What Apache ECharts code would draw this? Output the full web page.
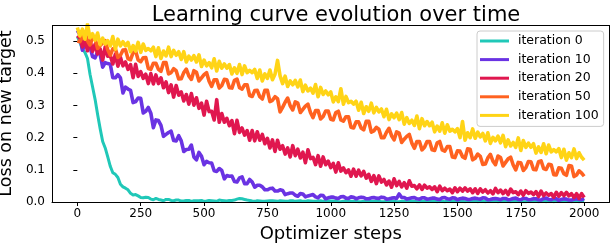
<!DOCTYPE html>
<html>
<head>
<meta charset="utf-8">
<script src="https://cdn.jsdelivr.net/npm/echarts@6/dist/echarts.min.js"></script>
<style>
html,body{margin:0;padding:0;background:#fff;}
#c{width:612px;height:246px;}
</style>
</head>
<body>
<div id="c"></div>
<script>
// sample positions (optimizer steps)
const stepsA = [0,20,40,60,80,100,120,140,160,180,200,220,240,260,280,300,320,340,360,380,400,420,440,460,480,500,520,540,560,580,600,620,640,660,680,700,720,740,760,780,800,820,840,860,880,900,920,940,960,980,1000,1020,1040,1060,1080,1100,1120,1140,1160,1180,1200,1220,1240,1260,1280,1300,1320,1340,1360,1380,1400,1420,1440,1460,1480,1500,1520,1540,1560,1580,1600,1620,1640,1660,1680,1700,1720,1740,1760,1780,1800,1820,1840,1860,1880,1900,1920,1940,1960,1980,2000];
const stepsB = [10,30,50,70,90,110,130,150,170,190,210,230,250,270,290,310,330,350,370,390,410,430,450,470,490,510,530,550,570,590,610,630,650,670,690,710,730,750,770,790,810,830,850,870,890,910,930,950,970,990,1010,1030,1050,1070,1090,1110,1130,1150,1170,1190,1210,1230,1250,1270,1290,1310,1330,1350,1370,1390,1410,1430,1450,1470,1490,1510,1530,1550,1570,1590,1610,1630,1650,1670,1690,1710,1730,1750,1770,1790,1810,1830,1850,1870,1890,1910,1930,1950,1970,1990];

const seriesNames = ['iteration 0','iteration 10','iteration 20','iteration 50','iteration 100'];
const seriesColors = ['#20c8b8','#6a33e3','#e0174f','#ff6220','#ffd416'];

// iteration 0
const iter0A = [0.514,0.474,0.446,0.358,0.272,0.188,0.140,0.091,0.076,0.047,0.038,
0.022,0.019,0.013,0.014,0.007,0.008,0.004,0.008,0.004,0.006,
0.003,0.005,0.004,0.004,0.002,0.005,0.003,0.006,0.004,0.005,
0.006,0.011,0.008,0.005,0.002,0.003,0.002,0.004,0.003,0.004,
0.002,0.004,0.002,0.004,0.002,0.003,0.002,0.004,0.003,0.003,
0.002,0.001,0.003,0.002,0.002,0.001,0.003,0.002,0.003,0.001,
0.002,0.003,0.001,0.002,0.002,0.003,0.001,0.002,0.003,0.002,
0.001,0.002,0.003,0.002,0.001,0.002,0.002,0.003,0.001,0.002,
0.003,0.002,0.001,0.002,0.003,0.002,0.002,0.001,0.003,0.002,
0.001,0.002,0.003,0.001,0.002,0.002,0.003,0.002,0.001,0.002];
const iter0B = [0.497,0.465,0.397,0.319,0.228,0.168,0.111,0.086,0.055,0.043,
0.027,0.023,0.014,0.015,0.009,0.011,0.006,0.008,0.005,0.006,
0.003,0.005,0.002,0.004,0.005,0.003,0.004,0.002,0.005,0.003,
0.005,0.009,0.010,0.006,0.003,0.004,0.002,0.003,0.004,0.002,
0.003,0.002,0.004,0.003,0.002,0.004,0.002,0.003,0.002,0.004,
0.003,0.001,0.002,0.003,0.002,0.001,0.002,0.003,0.002,0.002,
0.001,0.003,0.002,0.001,0.002,0.003,0.002,0.001,0.003,0.002,
0.002,0.003,0.001,0.002,0.003,0.002,0.001,0.002,0.003,0.002,
0.001,0.002,0.003,0.002,0.002,0.001,0.003,0.002,0.001,0.003,
0.002,0.002,0.001,0.003,0.002,0.002,0.003,0.001,0.002,0.003];

// iteration 10
const iter10A = [0.533,0.488,0.485,0.448,0.466,0.433,0.430,0.386,0.396,0.357,
0.351,0.312,0.323,0.282,0.294,0.255,0.253,0.210,0.216,0.190,
0.206,0.163,0.164,0.131,0.154,0.126,0.122,0.095,0.104,0.082,
0.080,0.062,0.075,0.057,0.070,0.052,0.052,0.038,0.042,0.034,
0.038,0.026,0.028,0.018,0.026,0.019,0.021,0.013,0.021,0.013,
0.015,0.011,0.016,0.011,0.016,0.013,0.015,0.010,0.013,0.011,
0.015,0.010,0.012,0.025,0.014,0.011,0.013,0.009,0.013,0.010,
0.012,0.008,0.013,0.009,0.013,0.010,0.012,0.008,0.011,0.009,
0.013,0.008,0.010,0.007,0.011,0.008,0.011,0.007,0.011,0.008,
0.010,0.006,0.011,0.007,0.011,0.008,0.010,0.006,0.009,0.007,0.011];
const iter10B = [0.520,0.472,0.482,0.452,0.459,0.419,0.428,0.386,0.386,0.339,
0.347,0.309,0.322,0.277,0.276,0.231,0.238,0.204,0.220,0.191,
0.190,0.157,0.177,0.140,0.142,0.116,0.121,0.097,0.098,0.072,
0.081,0.064,0.078,0.057,0.062,0.046,0.047,0.038,0.043,0.034,
0.036,0.023,0.028,0.021,0.025,0.016,0.023,0.016,0.020,0.010,
0.015,0.012,0.017,0.012,0.015,0.010,0.014,0.010,0.014,0.012,
0.014,0.009,0.013,0.011,0.014,0.009,0.014,0.010,0.013,0.009,
0.012,0.009,0.014,0.010,0.012,0.007,0.011,0.008,0.012,0.010,
0.012,0.007,0.011,0.009,0.011,0.007,0.012,0.008,0.011,0.007,
0.010,0.007,0.012,0.008,0.010,0.005,0.009,0.006,0.010,0.008];

// iteration 20
const iter20A = [0.509,0.504,0.470,0.490,0.460,0.482,0.453,0.459,0.422,0.435,
0.412,0.428,0.390,0.397,0.368,0.395,0.368,0.373,0.340,0.362,
0.332,0.334,0.304,0.324,0.291,0.313,0.281,0.318,0.248,0.260,
0.237,0.254,0.216,0.222,0.192,0.218,0.192,0.198,0.168,0.192,
0.164,0.168,0.140,0.164,0.137,0.162,0.135,0.144,0.111,0.127,
0.107,0.122,0.096,0.100,0.080,0.099,0.081,0.086,0.064,0.081,
0.062,0.065,0.046,0.064,0.047,0.066,0.049,0.053,0.039,0.047,
0.039,0.049,0.035,0.040,0.029,0.043,0.034,0.041,0.029,0.041,
0.031,0.035,0.025,0.037,0.026,0.040,0.029,0.034,0.021,0.031,
0.023,0.034,0.020,0.026,0.015,0.029,0.020,0.026,0.014,0.026,0.014];
const iter20B = [0.516,0.482,0.503,0.468,0.476,0.441,0.455,0.429,0.450,0.423,
0.427,0.386,0.405,0.384,0.399,0.367,0.386,0.355,0.364,0.326,
0.342,0.314,0.337,0.301,0.307,0.270,0.282,0.255,0.275,0.248,
0.253,0.212,0.230,0.208,0.222,0.190,0.210,0.181,0.193,0.157,
0.175,0.149,0.175,0.144,0.155,0.122,0.139,0.116,0.140,0.116,
0.120,0.093,0.106,0.091,0.102,0.080,0.095,0.074,0.082,0.057,
0.070,0.053,0.072,0.051,0.060,0.043,0.051,0.041,0.052,0.043,
0.047,0.032,0.043,0.035,0.044,0.032,0.044,0.034,0.041,0.027,
0.038,0.028,0.042,0.029,0.036,0.023,0.032,0.023,0.035,0.027,
0.032,0.017,0.028,0.021,0.030,0.018,0.030,0.019,0.026,0.011];

// iteration 50
const iter50A = [0.500,0.526,0.501,0.508,0.477,0.501,0.473,0.477,0.449,0.473,
0.445,0.469,0.441,0.449,0.415,0.431,0.412,0.433,0.398,0.408,
0.382,0.413,0.392,0.403,0.376,0.402,0.375,0.380,0.354,0.380,
0.355,0.382,0.355,0.364,0.331,0.347,0.327,0.347,0.312,0.321,
0.280,0.323,0.299,0.307,0.278,0.304,0.278,0.284,0.258,0.283,
0.257,0.282,0.255,0.265,0.232,0.249,0.230,0.251,0.217,0.226,
0.200,0.229,0.206,0.214,0.185,0.210,0.183,0.188,0.162,0.188,
0.162,0.188,0.162,0.172,0.140,0.158,0.141,0.164,0.131,0.142,
0.117,0.148,0.127,0.138,0.112,0.139,0.115,0.122,0.098,0.125,
0.101,0.128,0.104,0.116,0.085,0.105,0.088,0.112,0.079,0.090,0.080];
const iter50B = [0.498,0.513,0.488,0.511,0.486,0.494,0.456,0.476,0.456,0.472,
0.442,0.464,0.436,0.448,0.412,0.431,0.406,0.433,0.402,0.414,
0.383,0.402,0.381,0.408,0.386,0.396,0.359,0.380,0.362,0.381,
0.354,0.378,0.351,0.364,0.328,0.346,0.320,0.347,0.316,0.327,
0.294,0.310,0.286,0.311,0.288,0.298,0.262,0.284,0.266,0.283,
0.255,0.278,0.251,0.265,0.230,0.249,0.224,0.251,0.221,0.232,
0.200,0.217,0.193,0.218,0.195,0.204,0.167,0.188,0.170,0.188,
0.160,0.184,0.158,0.172,0.138,0.159,0.136,0.165,0.136,0.149,
0.118,0.137,0.116,0.143,0.123,0.134,0.100,0.123,0.107,0.126,
0.100,0.125,0.101,0.117,0.084,0.106,0.083,0.113,0.084,0.097];

// iteration 100
const iter100A = [0.542,0.506,0.552,0.503,0.525,0.491,0.501,0.475,0.506,0.485,
0.496,0.469,0.496,0.471,0.477,0.452,0.479,0.454,0.481,0.456,
0.467,0.435,0.453,0.435,0.457,0.423,0.433,0.407,0.437,0.416,
0.427,0.400,0.427,0.402,0.409,0.384,0.410,0.384,0.410,0.440,
0.392,0.359,0.376,0.358,0.379,0.345,0.354,0.327,0.356,0.333,
0.342,0.312,0.352,0.309,0.313,0.285,0.310,0.282,0.307,0.280,
0.289,0.256,0.274,0.256,0.278,0.244,0.254,0.228,0.259,0.237,
0.248,0.220,0.246,0.220,0.226,0.200,0.250,0.200,0.227,0.202,
0.213,0.182,0.201,0.184,0.207,0.174,0.185,0.160,0.191,0.170,
0.181,0.154,0.181,0.156,0.163,0.138,0.164,0.138,0.165,0.139,0.130];
const iter100B = [0.516,0.537,0.510,0.523,0.489,0.509,0.485,0.514,0.485,0.498,
0.467,0.486,0.465,0.491,0.470,0.481,0.446,0.469,0.452,0.471,
0.443,0.467,0.441,0.455,0.421,0.441,0.417,0.445,0.416,0.429,
0.398,0.417,0.396,0.423,0.402,0.412,0.376,0.398,0.380,0.397,
0.368,0.391,0.364,0.378,0.343,0.363,0.338,0.365,0.334,0.345,
0.311,0.327,0.304,0.328,0.304,0.313,0.275,0.296,0.277,0.294,
0.265,0.288,0.262,0.276,0.242,0.262,0.238,0.267,0.237,0.250,
0.218,0.236,0.214,0.240,0.218,0.228,0.192,0.215,0.198,0.217,
0.190,0.215,0.190,0.205,0.172,0.193,0.170,0.199,0.170,0.183,
0.152,0.171,0.150,0.177,0.156,0.166,0.130,0.153,0.135,0.153];

const xTicks = [0,250,500,750,1000,1250,1500,1750,2000];
const yTicks = [0,0.1,0.2,0.3,0.4,0.5];
const xRange = [-100, 2100];
const yRange = [0, 0.55];

const valuesA = [iter0A, iter10A, iter20A, iter50A, iter100A];
const valuesB = [iter0B, iter10B, iter20B, iter50B, iter100B];
// the noisy curves read as a high/low pair in every 20-step cell;
// for the odd cells the high reading sits first
const pairOrderSwap = [false, true, true, true, true];

function buildData(a, b, swap) {
  const out = [];
  for (let i = 0; i < stepsA.length; i++) {
    if (i < stepsB.length) {
      if (swap && i % 2 === 1) {
        out.push([stepsA[i], b[i]]);
        out.push([stepsB[i], a[i]]);
      } else {
        out.push([stepsA[i], a[i]]);
        out.push([stepsB[i], b[i]]);
      }
    } else {
      out.push([stepsA[i], a[i]]);
    }
  }
  return out;
}

const FONT = 'DejaVu Sans';
const spineStyle = {color: '#000000', width: 1, type: 'solid', opacity: 1};

const lineSeries = seriesNames.map((name, k) => ({
  name: name, type: 'line', showSymbol: false, symbol: 'none', clip: true,
  color: seriesColors[k],
  lineStyle: {width: k === 0 ? 3 : 3.6, color: seriesColors[k], join: 'round'},
  data: buildData(valuesA[k], valuesB[k], pairOrderSwap[k])
}));

// frame (spines) drawn as mark lines at the axis extents
const frameSeries = {
  name: 'frame', type: 'line', data: [], clip: false, silent: true, z: 10,
  markLine: {
    silent: true, symbol: ['none', 'none'], label: {show: false},
    emphasis: {disabled: true}, animation: false, precision: 10,
    lineStyle: spineStyle,
    data: [
      {yAxis: yRange[1], lineStyle: spineStyle},
      {yAxis: yRange[0], lineStyle: spineStyle},
      {xAxis: xRange[0], lineStyle: spineStyle},
      {xAxis: xRange[1], lineStyle: spineStyle}
    ]
  }
};

const chart = echarts.init(document.getElementById('c'), null, {renderer:'canvas'});
chart.setOption({
  animation: false,
  backgroundColor: '#fff',
  title: {
    text: 'Learning curve evolution over time',
    left: 331, top: 0, textAlign: 'center',
    textStyle: {fontFamily: FONT, fontSize: 21, fontWeight: 'normal', color: '#000'}
  },
  legend: {
    orient: 'vertical', left: 477, top: 31,
    padding: [3,5,4,3],
    itemGap: 4.6, itemWidth: 29, itemHeight: 3,
    icon: 'rect',
    backgroundColor: 'rgba(255,255,255,0.85)', borderColor: '#cccccc', borderWidth: 1, borderRadius: 3,
    textStyle: {fontFamily: FONT, fontSize: 12.5, color: '#000', lineHeight: 14, padding: [0,0,0,4]},
    data: seriesNames,
    z: 20
  },
  grid: {left: 52, right: 2.5, top: 25, bottom: 44, containLabel: false, outerBoundsMode: 'none'},
  xAxis: {
    type: 'value', min: xRange[0], max: xRange[1],
    name: 'Optimizer steps', nameLocation: 'middle', nameGap: 22,
    nameTextStyle: {fontFamily: FONT, fontSize: 18, color: '#000'},
    axisLine: {show: true, onZero: true, lineStyle: spineStyle},
    axisTick: {show: true, length: 4, customValues: xTicks, lineStyle: {color: '#000'}},
    axisLabel: {customValues: xTicks, margin: 6, fontFamily: FONT, fontSize: 12, color: '#000',
      formatter: v => String(v)},
    splitLine: {show: false}
  },
  yAxis: {
    type: 'value', min: yRange[0], max: yRange[1],
    name: 'Loss on new target', nameLocation: 'middle', nameGap: 33, nameRotate: 90,
    nameTextStyle: {fontFamily: FONT, fontSize: 17.5, color: '#000'},
    axisLine: {show: false},
    axisTick: {show: true, length: 4, customValues: yTicks, lineStyle: {color: '#000'}},
    axisLabel: {customValues: yTicks, margin: 7, fontFamily: FONT, fontSize: 12, color: '#000',
      formatter: v => v.toFixed(1)},
    splitLine: {show: false}
  },
  series: lineSeries.concat([frameSeries])
});
</script>
</body>
</html>
